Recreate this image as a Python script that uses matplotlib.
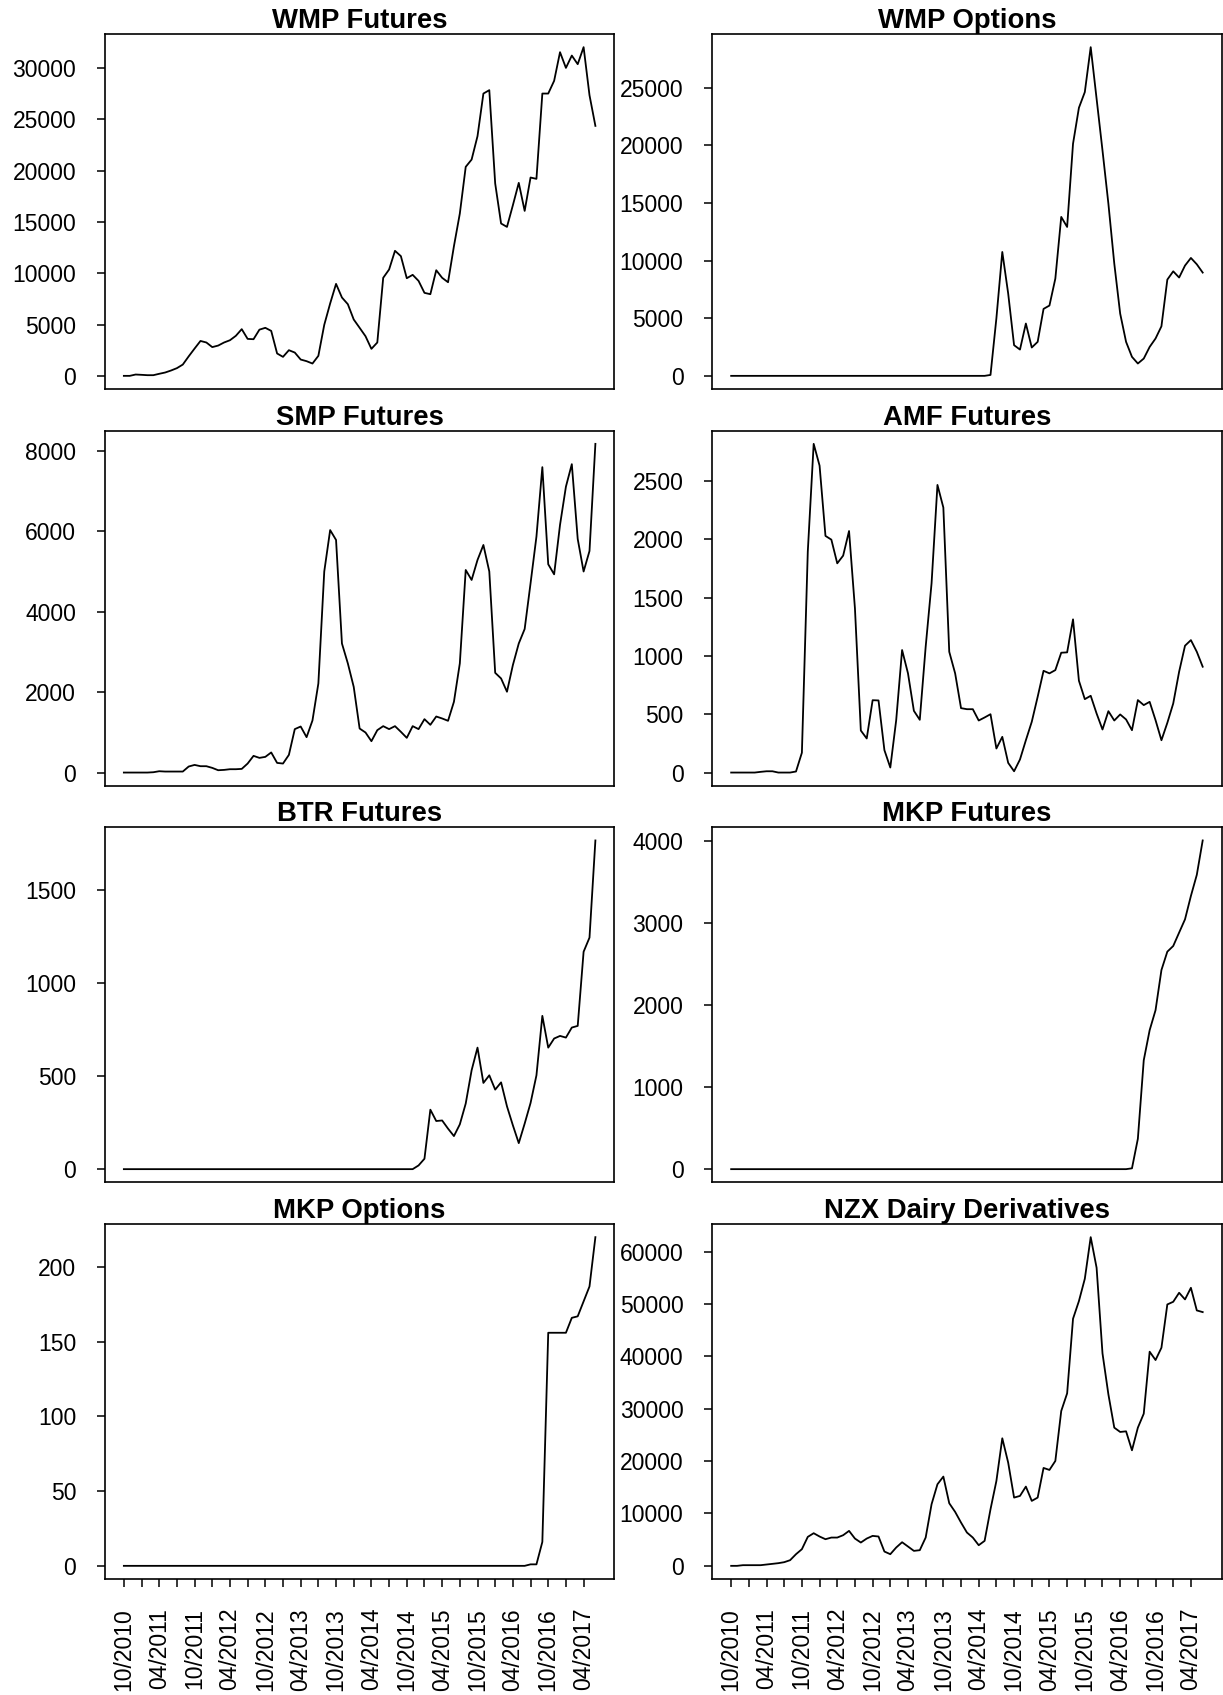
import matplotlib
matplotlib.use("Agg")
import matplotlib.pyplot as plt
import numpy as np

plt.rcParams['font.family'] = ['Liberation Sans', 'DejaVu Sans']

# monthly volumes, 10/2010 .. 06/2017
wmp_futures = [0, 0, 130, 100, 65, 65, 200, 325, 520, 750,
               1100, 1900, 2660, 3400, 3250, 2800, 2950, 3250, 3470, 3900,
               4550, 3600, 3570, 4500, 4680, 4380, 2180, 1850, 2500, 2270,
               1590, 1430, 1200, 1950, 4970, 7050, 8960, 7630, 6980, 5490,
               4680, 3860, 2630, 3250, 9550, 10360, 12180, 11660, 9510, 9840,
               9250, 8085, 7955, 10290, 9550, 9120, 12630, 15810, 20360, 21070,
               23350, 27500, 27830, 18740, 14840, 14510, 16620, 18800, 16070, 19320,
               19190, 27500, 27500, 28740, 31530, 30000, 31200, 30360, 32020, 27340, 24350]

wmp_options = [0, 0, 0, 0, 0, 0, 0, 0, 0, 0,
               0, 0, 0, 0, 0, 0, 0, 0, 0, 0,
               0, 0, 0, 0, 0, 0, 0, 0, 0, 0,
               0, 0, 0, 0, 0, 0, 0, 0, 0, 0,
               0, 0, 0, 0, 80, 5000, 10750, 7140, 2660, 2280,
               4540, 2460, 2950, 5810, 6100, 8440, 13790, 12920, 20140, 23260,
               24620, 28520, 24040, 19560, 14940, 9740, 5400, 2950, 1650, 1070,
               1500, 2510, 3240, 4300, 8350, 9070, 8530, 9570, 10230, 9680, 8960]

smp_futures = [0, 0, 0, 0, 0, 8, 33, 25, 25, 25,
               25, 150, 190, 158, 158, 116, 58, 66, 83, 83,
               91, 224, 415, 365, 390, 500, 240, 224, 440, 1080,
               1145, 880, 1295, 2216, 5000, 6030, 5785, 3210, 2715, 2130,
               1095, 996, 780, 1054, 1154, 1080, 1154, 1013, 863, 1154,
               1080, 1328, 1187, 1394, 1345, 1287, 1760, 2715, 5038, 4790,
               5287, 5660, 5000, 2480, 2340, 2010, 2673, 3210, 3570, 4706,
               5870, 7595, 5180, 4930, 6160, 7110, 7670, 5810, 5000, 5510, 8175]

amf_futures = [0, 0, 0, 0, 0, 6, 11, 11, 0, 0,
               0, 9, 170, 1893, 2817, 2630, 2028, 1996, 1793, 1859,
               2070, 1407, 360, 292, 620, 618, 192, 43, 449, 1050,
               850, 529, 452, 1078, 1622, 2465, 2271, 1035, 850, 552,
               543, 543, 446, 472, 500, 206, 306, 83, 11, 112,
               277, 435, 649, 872, 850, 878, 1027, 1030, 1313, 787,
               629, 658, 506, 369, 526, 446, 498, 455, 363, 621,
               578, 606, 449, 277, 426, 592, 864, 1087, 1135, 1035, 907]

btr_futures = [0, 0, 0, 0, 0, 0, 0, 0, 0, 0,
               0, 0, 0, 0, 0, 0, 0, 0, 0, 0,
               0, 0, 0, 0, 0, 0, 0, 0, 0, 0,
               0, 0, 0, 0, 0, 0, 0, 0, 0, 0,
               0, 0, 0, 0, 0, 0, 0, 0, 0, 0,
               20, 56, 320, 259, 262, 218, 178, 241, 353, 532,
               654, 464, 505, 428, 467, 338, 236, 140, 245, 356,
               505, 825, 654, 703, 717, 708, 762, 771, 1170, 1246, 1769]

mkp_futures = [0, 0, 0, 0, 0, 0, 0, 0, 0, 0,
               0, 0, 0, 0, 0, 0, 0, 0, 0, 0,
               0, 0, 0, 0, 0, 0, 0, 0, 0, 0,
               0, 0, 0, 0, 0, 0, 0, 0, 0, 0,
               0, 0, 0, 0, 0, 0, 0, 0, 0, 0,
               0, 0, 0, 0, 0, 0, 0, 0, 0, 0,
               0, 0, 0, 0, 0, 0, 0, 0, 10, 370,
               1327, 1693, 1937, 2426, 2650, 2719, 2882, 3044, 3329, 3586, 4005]

mkp_options = [0, 0, 0, 0, 0, 0, 0, 0, 0, 0,
               0, 0, 0, 0, 0, 0, 0, 0, 0, 0,
               0, 0, 0, 0, 0, 0, 0, 0, 0, 0,
               0, 0, 0, 0, 0, 0, 0, 0, 0, 0,
               0, 0, 0, 0, 0, 0, 0, 0, 0, 0,
               0, 0, 0, 0, 0, 0, 0, 0, 0, 0,
               0, 0, 0, 0, 0, 0, 0, 0, 0, 1,
               1, 16, 156, 156, 156, 156, 166, 167, 177, 187, 220]

nzx_dairy = [0, 0, 127, 127, 127, 127, 254, 381, 509, 700,
             1080, 2225, 3180, 5530, 6230, 5600, 5085, 5400, 5400, 5850,
             6675, 5210, 4450, 5210, 5720, 5600, 2730, 2225, 3500, 4510,
             3690, 2860, 2990, 5400, 11760, 15575, 17040, 11950, 10300, 8260,
             6360, 5400, 3940, 4770, 10800, 16210, 24350, 19700, 13030, 13350,
             15130, 12400, 13030, 18690, 18310, 20025, 29560, 32930, 47170, 50540,
             54800, 62750, 56900, 40560, 32740, 26380, 25560, 25680, 22060, 26380,
             29050, 40880, 39290, 41640, 49900, 50410, 52130, 50860, 53080, 48760, 48440]

# one tick every quarter, labels every half year
tick_labels = ["10/2010", "", "04/2011", "", "10/2011", "", "04/2012", "",
               "10/2012", "", "04/2013", "", "10/2013", "", "04/2014", "",
               "10/2014", "", "04/2015", "", "10/2015", "", "04/2016", "",
               "10/2016", "", "04/2017"]

titles = ["WMP Futures", "WMP Options", "SMP Futures", "AMF Futures",
          "BTR Futures", "MKP Futures", "MKP Options", "NZX Dairy Derivatives"]
series = [wmp_futures, wmp_options, smp_futures, amf_futures,
          btr_futures, mkp_futures, mkp_options, nzx_dairy]
y_steps = [5000, 5000, 2000, 500, 500, 1000, 50, 10000]

fig = plt.figure(figsize=(12.23, 16.95), dpi=100)

col_x = [0.08585, 0.58242]
row_y = [0.77050, 0.53646, 0.30248, 0.06844]
w, h = 0.4164, 0.20944

for k, (title, vals, step) in enumerate(zip(titles, series, y_steps)):
    r, c = divmod(k, 2)
    ax = fig.add_axes([col_x[c], row_y[r], w, h])
    y = np.array(vals, dtype=float)
    x = np.arange(len(y))
    ax.plot(x, y, color="black", lw=1.3)

    # R-style 4% padding on both axes
    n = len(y) - 1
    ax.set_xlim(-0.04 * n, n * 1.04)
    lo, hi = y.min(), y.max()
    ax.set_ylim(lo - 0.04 * (hi - lo), hi + 0.04 * (hi - lo))

    ax.yaxis.set_major_locator(plt.MultipleLocator(step))
    ax.yaxis.set_major_formatter(plt.FuncFormatter(lambda v, p: "%d" % v))
    ax.tick_params(axis="y", length=5.8, width=1.1, pad=15, labelsize=16.5)

    if r == 3:
        ax.set_xticks(np.arange(0, 79, 3))
        ax.set_xticklabels(tick_labels, rotation=90)
        ax.tick_params(axis="x", length=5.8, width=1.1, pad=15, labelsize=16.5)
    else:
        ax.set_xticks([])

    for sp in ax.spines.values():
        sp.set_linewidth(1.2)

    ax.set_title(title, fontsize=19.8, fontweight="bold", pad=3)

fig.savefig("out.png", dpi=100)
